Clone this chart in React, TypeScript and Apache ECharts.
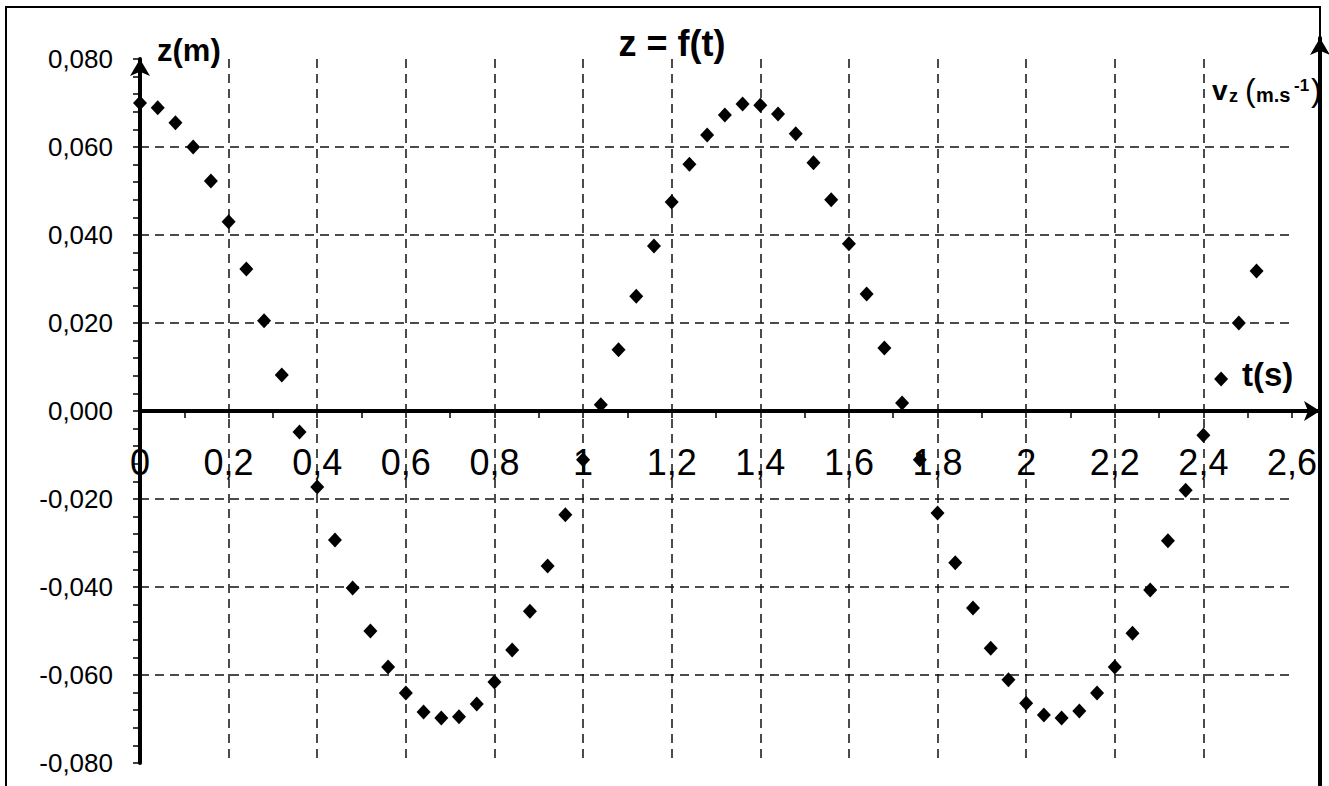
import React, { useEffect, useRef } from "react";
import * as echarts from "echarts";

const tValues = [
  0, 0.04, 0.08, 0.12, 0.16, 0.2, 0.24, 0.28, 0.32, 0.36,
  0.4, 0.44, 0.48, 0.52, 0.56, 0.6, 0.64, 0.68, 0.72, 0.76,
  0.8, 0.84, 0.88, 0.92, 0.96, 1.0, 1.04, 1.08, 1.12, 1.16,
  1.2, 1.24, 1.28, 1.32, 1.36, 1.4, 1.44, 1.48, 1.52, 1.56,
  1.6, 1.64, 1.68, 1.72, 1.76, 1.8, 1.84, 1.88, 1.92, 1.96,
  2.0, 2.04, 2.08, 2.12, 2.16, 2.2, 2.24, 2.28, 2.32, 2.36,
  2.4, 2.44, 2.48, 2.52,
];

const zValues = [
  0.07, 0.0689, 0.0655, 0.06, 0.0523, 0.043, 0.0323, 0.0205, 0.0082, -0.0048,
  -0.0173, -0.0293, -0.0402, -0.05, -0.0582, -0.0641, -0.0684, -0.0698, -0.0695, -0.0666,
  -0.0616, -0.0543, -0.0455, -0.0352, -0.0236, -0.0111, 0.0014, 0.0139, 0.0261, 0.0375,
  0.0475, 0.0561, 0.0627, 0.0673, 0.0698, 0.0695, 0.0675, 0.063, 0.0564, 0.048,
  0.038, 0.0266, 0.0143, 0.0018, -0.0111, -0.0232, -0.0345, -0.0448, -0.0539, -0.0611,
  -0.0664, -0.0691, -0.0698, -0.0682, -0.0641, -0.0582, -0.0505, -0.0407, -0.0295, -0.018,
  -0.0055, 0.0073, 0.02, 0.0318,
];

const xMin = 0;
const xMax = 2.6;
const xStep = 0.2;
const yMin = -0.08;
const yMax = 0.08;
const yStep = 0.02;

const FONT = "'Liberation Sans', Arial, sans-serif";

const fmtX = (v: number) => String(Number(v.toFixed(1))).replace(".", ",");
const fmtY = (v: number) => (Math.abs(v) < 1e-9 ? 0 : v).toFixed(3).replace(".", ",");

export default function App() {
  const ref = useRef<HTMLDivElement>(null);
  useEffect(() => {
    if (!ref.current) return;
    const chart = echarts.init(ref.current, null, { renderer: "svg" });
    const dash = { color: "#111", width: 1.5, type: [9, 6] as any };
    const axisBlack = { color: "#000", width: 4 };
    const option: any = {
      animation: false,
      backgroundColor: "#fff",
      title: [
        {
          text: "z = f(t)",
          left: 672,
          top: 25,
          textAlign: "center",
          padding: 0,
          textStyle: { fontFamily: FONT, fontWeight: "bold", fontSize: 36, color: "#000" },
        },
        {
          text: "z(m)",
          left: 157,
          top: 35,
          padding: 0,
          textStyle: { fontFamily: FONT, fontWeight: "bold", fontSize: 31, color: "#000" },
        },
        {
          text: "t(s)",
          left: 1242,
          top: 358,
          padding: 0,
          textStyle: { fontFamily: FONT, fontWeight: "bold", fontSize: 33, color: "#000" },
        },
      ],
      graphic: [
        {
          type: "rect",
          shape: { x: 6, y: 7, width: 1314, height: 830 },
          style: { fill: "none", stroke: "#000", lineWidth: 2 },
          silent: true,
          z: -10,
        },
        { type: "text", x: 1212, y: 90, style: { text: "v", font: `bold 28px ${FONT}`, fill: "#000", verticalAlign: "middle" } },
        { type: "text", x: 1229, y: 96, style: { text: "z", font: `bold 18px ${FONT}`, fill: "#000", verticalAlign: "middle" } },
        { type: "text", x: 1245, y: 90, style: { text: "(", font: `32px ${FONT}`, fill: "#000", verticalAlign: "middle" } },
        { type: "text", x: 1256, y: 95, style: { text: "m.s", font: `bold 20px ${FONT}`, fill: "#000", verticalAlign: "middle" } },
        { type: "text", x: 1294, y: 85, style: { text: "-1", font: `bold 17px ${FONT}`, fill: "#000", verticalAlign: "middle" } },
        { type: "text", x: 1311, y: 90, style: { text: ")", font: `32px ${FONT}`, fill: "#000", verticalAlign: "middle" } },
      ],
      grid: [
        { left: 140, right: 37, top: 59, bottom: 23, containLabel: false, outerBoundsMode: "none" },
        { left: 140, right: 9, top: 38, bottom: 0, containLabel: false, outerBoundsMode: "none" },
      ],
      xAxis: [
        {
          type: "value",
          gridIndex: 0,
          min: xMin,
          max: xMax,
          interval: xStep,
          position: "bottom",
          offset: -352,
          axisLine: { show: true, onZero: false, lineStyle: axisBlack },
          axisTick: { show: true, length: 7, lineStyle: { color: "#000", width: 1.5 } },
          minorTick: { show: true, splitNumber: 2, length: 7, lineStyle: { color: "#000", width: 1.5 } },
          splitLine: { show: true, showMinLine: false, showMaxLine: false, lineStyle: dash },
          axisLabel: {
            show: true,
            margin: 33,
            fontSize: 36,
            fontFamily: FONT,
            color: "#000",
            formatter: fmtX,
            showMinLabel: true,
            showMaxLabel: true,
          },
        },
        {
          type: "value",
          gridIndex: 1,
          min: 0,
          max: 1,
          position: "bottom",
          offset: -375,
          axisLine: { show: true, onZero: false, symbol: ["none", "arrow"], symbolSize: [15, 16], lineStyle: axisBlack },
          axisTick: { show: false },
          axisLabel: { show: false },
          splitLine: { show: false },
        },
      ],
      yAxis: [
        {
          type: "value",
          gridIndex: 0,
          min: yMin,
          max: yMax,
          interval: yStep,
          axisLine: { show: true, onZero: false, symbol: ["none", "arrow"], symbolSize: [15, 17], lineStyle: axisBlack },
          axisTick: { show: true, length: 7, lineStyle: { color: "#000", width: 1.5 } },
          minorTick: { show: true, splitNumber: 5, length: 7, lineStyle: { color: "#000", width: 1.5 } },
          splitLine: { show: true, showMinLine: false, showMaxLine: false, lineStyle: dash },
          axisLabel: {
            show: true,
            margin: 27,
            fontSize: 26,
            fontFamily: FONT,
            color: "#000",
            formatter: fmtY,
          },
        },
        {
          type: "value",
          gridIndex: 1,
          min: 0,
          max: 1,
          position: "right",
          axisLine: { show: true, onZero: false, symbol: ["none", "arrow"], symbolSize: [15, 17], lineStyle: axisBlack },
          axisTick: { show: false },
          axisLabel: { show: false },
          splitLine: { show: false },
        },
      ],
      series: [
        {
          type: "scatter",
          xAxisIndex: 0,
          yAxisIndex: 0,
          symbol: "diamond",
          symbolSize: [14, 15],
          itemStyle: { color: "#000", opacity: 1 },
          data: tValues.map((t, i) => [t, zValues[i]]),
          z: 5,
        },
      ],
    };
    chart.setOption(option);
    return () => chart.dispose();
  }, []);
  return (
    <div
      ref={ref}
      style={{ position: "absolute", left: 0, top: 0, width: 1329, height: 786, background: "#fff" }}
    />
  );
}
